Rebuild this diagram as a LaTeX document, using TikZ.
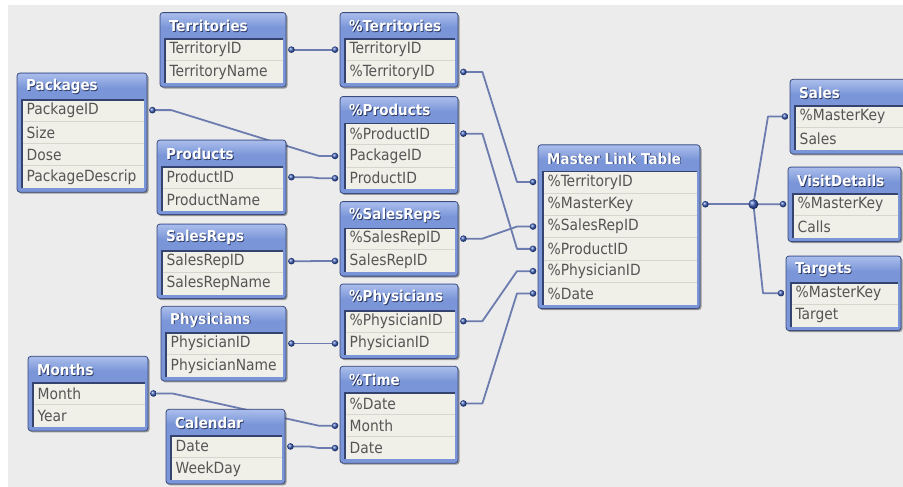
\documentclass[tikz,border=0pt]{standalone}
\usepackage{fontspec}
\setmainfont{DejaVu Sans Condensed}
\usetikzlibrary{calc}
\pgfdeclarelayer{back}
\pgfdeclarelayer{bg}
\pgfsetlayers{back,bg,main}
\definecolor{bgc}{HTML}{ECECEC}
\definecolor{framec}{HTML}{7A96D8}
\definecolor{hdtop}{HTML}{A9BCEB}
\definecolor{framedark}{HTML}{3C4C7C}
\definecolor{bodyc}{HTML}{F0EFE8}
\definecolor{sepc}{HTML}{D6D6CF}
\definecolor{insetc}{HTML}{34446E}
\definecolor{rowtxt}{HTML}{555555}
\definecolor{ttlshad}{HTML}{2A3762}
\definecolor{linkc}{HTML}{6C7CAE}
\definecolor{dotc}{HTML}{3A5CB8}
\tikzset{
  rowtext/.style={font=\fontsize{15.4}{17}\selectfont, text=rowtxt, anchor=west,
    inner xsep=9.5pt, inner ysep=0pt, minimum height=22.3pt, align=left},
  ttl/.style={font=\bfseries\fontsize{15}{17}\selectfont, text=white, anchor=west, inner sep=0pt},
  ttlsh/.style={font=\bfseries\fontsize{15}{17}\selectfont, text=ttlshad, anchor=west, inner sep=0pt},
  link/.style={draw=linkc, line width=1.8pt, line join=round},
}
% #1 id, #2 x, #3 y, #4 width, #5 rows count, #6 title, #7 rows
\newcommand\dbtab[7]{%
  \pgfmathsetmacro\tbot{#3+30+#5*22.3}%
  \pgfmathsetmacro\tright{#2+#4}%
  \pgfmathsetmacro\tw{#4-19}%
  \fill[black, opacity=.35, rounded corners=3pt] (#2+1.5,#3+1.5) rectangle (\tright+1.5,\tbot+1.5);
  \filldraw[fill=framec, draw=framedark, line width=.8pt, rounded corners=3pt] (#2,#3) rectangle (\tright,\tbot);
  \shade[top color=hdtop, bottom color=framec, rounded corners=2pt] (#2+.8,#3+.8) rectangle (\tright-.8,#3+15);
  \fill[bodyc] (#2+4,#3+26) rectangle (\tright-3,\tbot-4);
  \draw[insetc, line width=1.6pt] (#2+4.8,\tbot-4) -- (#2+4.8,#3+26.8) -- (\tright-3,#3+26.8);
  \foreach \k in {1,...,#5} {
    \ifnum\k<#5\relax
      \draw[sepc, line width=.9pt] (#2+5.6,#3+26+\k*22.3) -- (\tright-3,#3+26+\k*22.3);
    \fi
  }
  \node[ttlsh] (#1-s) at (#2+9.8,#3+14.6) {#6};
  \node[ttl] (#1-t) at (#2+9,#3+13.8) {#6};
  \foreach \r [count=\i] in {#7} {
    \node[rowtext, text width=\tw pt] (#1-\i) at (#2,#3+26+\i*22.3-11.15) {\r};
  }%
}
\newcommand\lnk[2]{%
  \draw[link] ([xshift=5pt]#1.east) -- ++(19pt,0pt) -- ([xshift=-21pt]#2.west) -- ([xshift=-5pt]#2.west);
  \shade[ball color=dotc] ([xshift=5pt]#1.east) circle (3.3pt);
  \shade[ball color=dotc] ([xshift=-5pt]#2.west) circle (3.3pt);%
}
\begin{document}
\begin{tikzpicture}[x=1pt, y=-1pt]
\useasboundingbox (0,0) rectangle (903,487);
\clip (0,0) rectangle (903,487);
\begin{pgfonlayer}{back}
  \fill[white] (0,0) rectangle (903,487);
  \fill[bgc] (8,5) rectangle (910,495);
\end{pgfonlayer}

\dbtab{ter}{160}{12.5}{126}{2}{Territories}{TerritoryID,TerritoryName}
\dbtab{pter}{340}{12.5}{118}{2}{\%Territories}{TerritoryID,\%TerritoryID}
\dbtab{pkg}{17}{73}{130}{4}{Packages}{PackageID,Size,Dose,PackageDescrip}
\dbtab{prd}{157}{140}{129}{2}{Products}{ProductID,ProductName}
\dbtab{pprd}{340}{96.5}{118}{3}{\%Products}{\%ProductID,PackageID,ProductID}
\dbtab{srp}{157}{224}{129}{2}{SalesReps}{SalesRepID,SalesRepName}
\dbtab{psrp}{340}{201.5}{118}{2}{\%SalesReps}{\%SalesRepID,SalesRepID}
\dbtab{phy}{161}{306.3}{125}{2}{Physicians}{PhysicianID,PhysicianName}
\dbtab{pphy}{340}{284}{118}{2}{\%Physicians}{\%PhysicianID,PhysicianID}
\dbtab{mon}{28}{356.3}{120}{2}{Months}{Month,Year}
\dbtab{cal}{166}{409.3}{119}{2}{Calendar}{Date,WeekDay}
\dbtab{ptim}{340}{366.3}{118}{3}{\%Time}{\%Date,Month,Date}
\dbtab{mst}{538}{144.8}{162}{6}{Master Link Table}{\%TerritoryID,\%MasterKey,\%SalesRepID,\%ProductID,\%PhysicianID,\%Date}
\dbtab{sal}{790}{79.3}{125}{2}{Sales}{\%MasterKey,Sales}
\dbtab{vis}{788}{167}{113}{2}{VisitDetails}{\%MasterKey,Calls}
\dbtab{tgt}{786}{256}{115}{2}{Targets}{\%MasterKey,Target}

\begin{pgfonlayer}{bg}
\lnk{ter-1}{pter-1}
\lnk{pkg-1}{pprd-2}
\lnk{prd-1}{pprd-3}
\lnk{srp-1}{psrp-2}
\lnk{phy-1}{pphy-2}
\lnk{mon-1}{ptim-2}
\lnk{cal-1}{ptim-3}
\lnk{pter-2}{mst-1}
\lnk{pprd-1}{mst-4}
\lnk{psrp-1}{mst-3}
\lnk{pphy-1}{mst-5}
\lnk{ptim-1}{mst-6}
\coordinate (jn) at ([xshift=53pt]mst-2.east);
\draw[link] ([xshift=5pt]mst-2.east) -- (jn);
\draw[link] (jn) -- ([xshift=-22pt]sal-1.west) -- ([xshift=-5pt]sal-1.west);
\draw[link] (jn) -- ([xshift=-5pt]vis-1.west);
\draw[link] (jn) -- ([xshift=-23pt]tgt-1.west) -- ([xshift=-5pt]tgt-1.west);
\shade[ball color=dotc] ([xshift=5pt]mst-2.east) circle (3.3pt);
\shade[ball color=dotc] (jn) circle (5pt);
\shade[ball color=dotc] ([xshift=-5pt]sal-1.west) circle (3.3pt);
\shade[ball color=dotc] ([xshift=-5pt]vis-1.west) circle (3.3pt);
\shade[ball color=dotc] ([xshift=-5pt]tgt-1.west) circle (3.3pt);
\end{pgfonlayer}
\end{tikzpicture}
\end{document}
